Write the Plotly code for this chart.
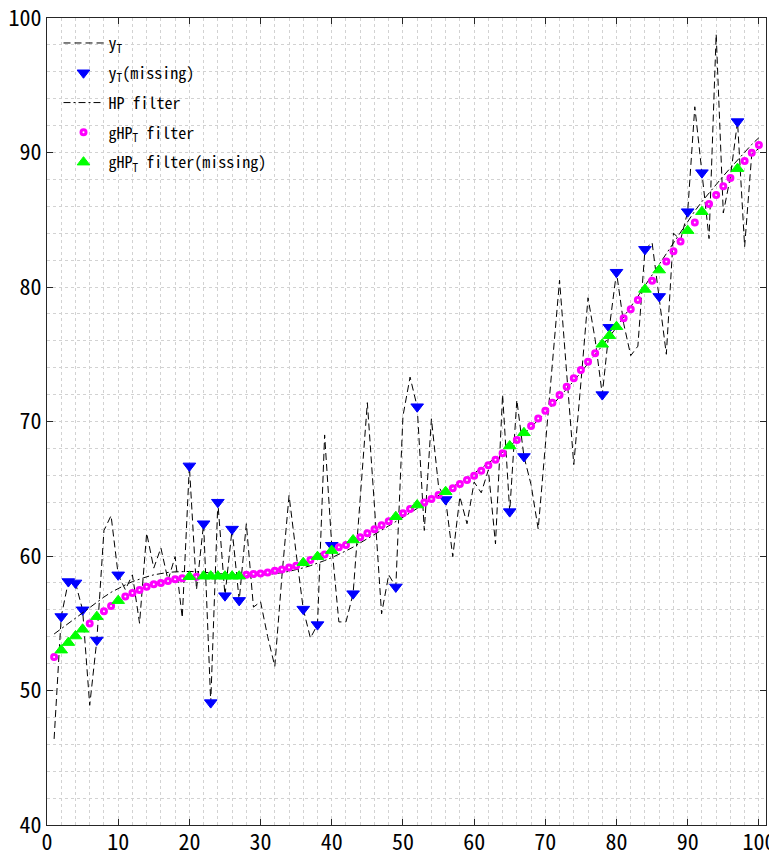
import plotly.graph_objects as go

t = list(range(1, 101))

y_T = [46.4, 55.5, 58.1, 58.0, 56.0, 48.9, 53.75, 61.9, 63.0, 58.6,
       57.5, 58.6, 55.0, 61.7, 59.1, 60.6, 58.2, 59.95, 55.4, 66.7,
       57.5, 62.4, 49.1, 64.0, 57.05, 62.0, 56.7, 62.4, 56.2, 56.6,
       54.0, 51.8, 58.5, 64.5, 60.2, 56.05, 53.9, 54.9, 69.0, 60.8,
       55.1, 55.1, 57.2, 64.0, 71.4, 63.7, 55.7, 58.6, 57.7, 70.4,
       73.3, 71.1, 61.9, 70.2, 65.2, 64.2, 59.95, 64.4, 62.4, 65.5,
       64.7, 66.4, 60.9, 72.0, 63.3, 71.6, 67.4, 65.3, 62.0, 68.2,
       74.3, 80.5, 73.6, 66.8, 72.9, 79.2, 76.1, 72.0, 77.0, 81.1,
       77.3, 74.9, 75.6, 82.8, 83.3, 79.3, 75.0, 84.0, 83.5, 85.6,
       93.4, 88.5, 83.6, 98.8, 85.5, 88.2, 92.3, 83.0, 89.9, 90.3]

hp = [54.2, 54.6, 55.0, 55.4, 55.8, 56.2, 56.6, 56.95, 57.3, 57.6,
      57.85, 58.1, 58.3, 58.45, 58.6, 58.7, 58.78, 58.82, 58.85, 58.85,
      58.83, 58.8, 58.75, 58.7, 58.65, 58.6, 58.58, 58.56, 58.56, 58.58,
      58.62, 58.68, 58.76, 58.86, 58.98, 59.12, 59.28, 59.46, 59.66, 59.88,
      60.12, 60.38, 60.66, 60.96, 61.28, 61.6, 61.92, 62.24, 62.56, 62.88,
      63.2, 63.52, 63.84, 64.16, 64.48, 64.8, 65.12, 65.45, 65.8, 66.15,
      66.52, 66.9, 67.3, 67.72, 68.15, 68.6, 69.08, 69.58, 70.1, 70.65,
      71.22, 71.8, 72.4, 73.02, 73.65, 74.3, 74.96, 75.62, 76.3, 77.0,
      77.75, 78.5, 79.3, 80.1, 80.9, 81.7, 82.5, 83.3, 84.1, 84.9,
      85.65, 86.35, 87.0, 87.65, 88.25, 88.85, 89.45, 90.05, 90.6, 91.1]

ghp = [52.5, 53.0, 53.56, 54.05, 54.55, 54.98, 55.49, 55.9, 56.28, 56.68,
       56.98, 57.25, 57.47, 57.72, 57.9, 58.0, 58.14, 58.27, 58.34, 58.46,
       58.46, 58.5, 58.5, 58.5, 58.5, 58.5, 58.5, 58.6, 58.66, 58.7,
       58.78, 58.9, 59.0, 59.15, 59.28, 59.5, 59.7, 59.95, 60.12, 60.4,
       60.65, 60.82, 61.19, 61.39, 61.69, 61.98, 62.28, 62.58, 62.92, 63.17,
       63.49, 63.79, 63.98, 64.24, 64.54, 64.78, 65.03, 65.35, 65.65, 65.96,
       66.34, 66.74, 67.16, 67.64, 68.18, 68.62, 69.16, 69.66, 70.23, 70.8,
       71.4, 71.97, 72.59, 73.21, 73.83, 74.45, 75.07, 75.74, 76.38, 77.05,
       77.67, 78.34, 79.03, 79.82, 80.46, 81.26, 81.9, 82.65, 83.39, 84.19,
       84.8, 85.6, 86.17, 86.84, 87.5, 88.1, 88.8, 89.37, 89.99, 90.56]

missing = [2, 3, 4, 5, 7, 10, 20, 22, 23, 24, 25, 26, 27, 36, 38, 40, 43, 49,
           52, 56, 65, 67, 78, 79, 80, 84, 86, 90, 92, 97]

x_tick_vals = [0, 10, 20, 30, 40, 50, 60, 70, 80, 90, 100]
y_tick_vals = [40, 50, 60, 70, 80, 90, 100]

miss_set = set(missing)
x_obs = [x for x in t if x not in miss_set]
ghp_obs = [ghp[x - 1] for x in x_obs]
y_miss = [y_T[x - 1] for x in missing]
ghp_miss = [ghp[x - 1] for x in missing]

FONT = "Noto Sans Mono CJK JP, Noto Sans CJK JP, sans-serif"

fig = go.Figure()
fig.add_trace(go.Scatter(x=t, y=y_T, mode="lines", name="y<sub>T</sub>", legendgroup="a",
                         line=dict(color="black", width=1, dash="7px,4px")))
fig.add_trace(go.Scatter(x=missing, y=y_miss, mode="markers", name="y<sub>T</sub>(missing)",
                         legendgroup="b",
                         marker=dict(symbol="triangle-down", color="#0000ff", size=11,
                                     line=dict(color="#0000ff", width=1))))
fig.add_trace(go.Scatter(x=t, y=hp, mode="lines", name="HP filter", legendgroup="c",
                         line=dict(color="black", width=1, dash="7px,3px,2px,3px")))
fig.add_trace(go.Scatter(x=x_obs, y=ghp_obs, mode="markers", name="gHP<sub>T</sub> filter",
                         legendgroup="d",
                         marker=dict(symbol="circle-open", color="#ff00ff", size=5,
                                     line=dict(color="#ff00ff", width=3))))
fig.add_trace(go.Scatter(x=missing, y=ghp_miss, mode="markers", name="gHP<sub>T</sub> filter(missing)",
                         legendgroup="e",
                         marker=dict(symbol="triangle-up", color="#00ff00", size=11,
                                     line=dict(color="#00ff00", width=1))))

axis_common = dict(
    showline=True, linecolor="#262626", linewidth=1, mirror="ticks",
    ticks="inside", ticklen=6, tickcolor="#262626",
    showgrid=True, gridcolor="#d2d2d2", griddash="dot", gridwidth=1,
    zeroline=False, automargin=False, ticklabeloverflow="allow",
    tickfont=dict(family=FONT, size=22, color="#000000"),
)

fig.update_xaxes(range=[0, 101], tickvals=x_tick_vals, ticklabelstandoff=-2,
                 minor=dict(dtick=2, tick0=0, showgrid=True, gridcolor="#d2d2d2",
                            griddash="dot", gridwidth=1, ticks=""),
                 **axis_common)
fig.update_yaxes(range=[40, 100], tickvals=y_tick_vals,
                 minor=dict(dtick=2, tick0=40, showgrid=True, gridcolor="#d2d2d2",
                            griddash="dot", gridwidth=1, ticks=""),
                 **axis_common)

# page has an 8px body margin; size the figure so the plot area lands where the reference has it
fig.update_layout(
    width=769, height=848,
    margin=dict(l=39, r=11, t=10, b=31),
    paper_bgcolor="white", plot_bgcolor="white",
    font=dict(family=FONT, size=16, color="#000000"),
    showlegend=True,
    legend=dict(x=0.016, y=0.99, xanchor="left", yanchor="top",
                bgcolor="rgba(255,255,255,0)", borderwidth=0,
                font=dict(family=FONT, size=16, color="#000000"),
                tracegroupgap=6, itemwidth=40),
)

fig.write_html("out.html")
